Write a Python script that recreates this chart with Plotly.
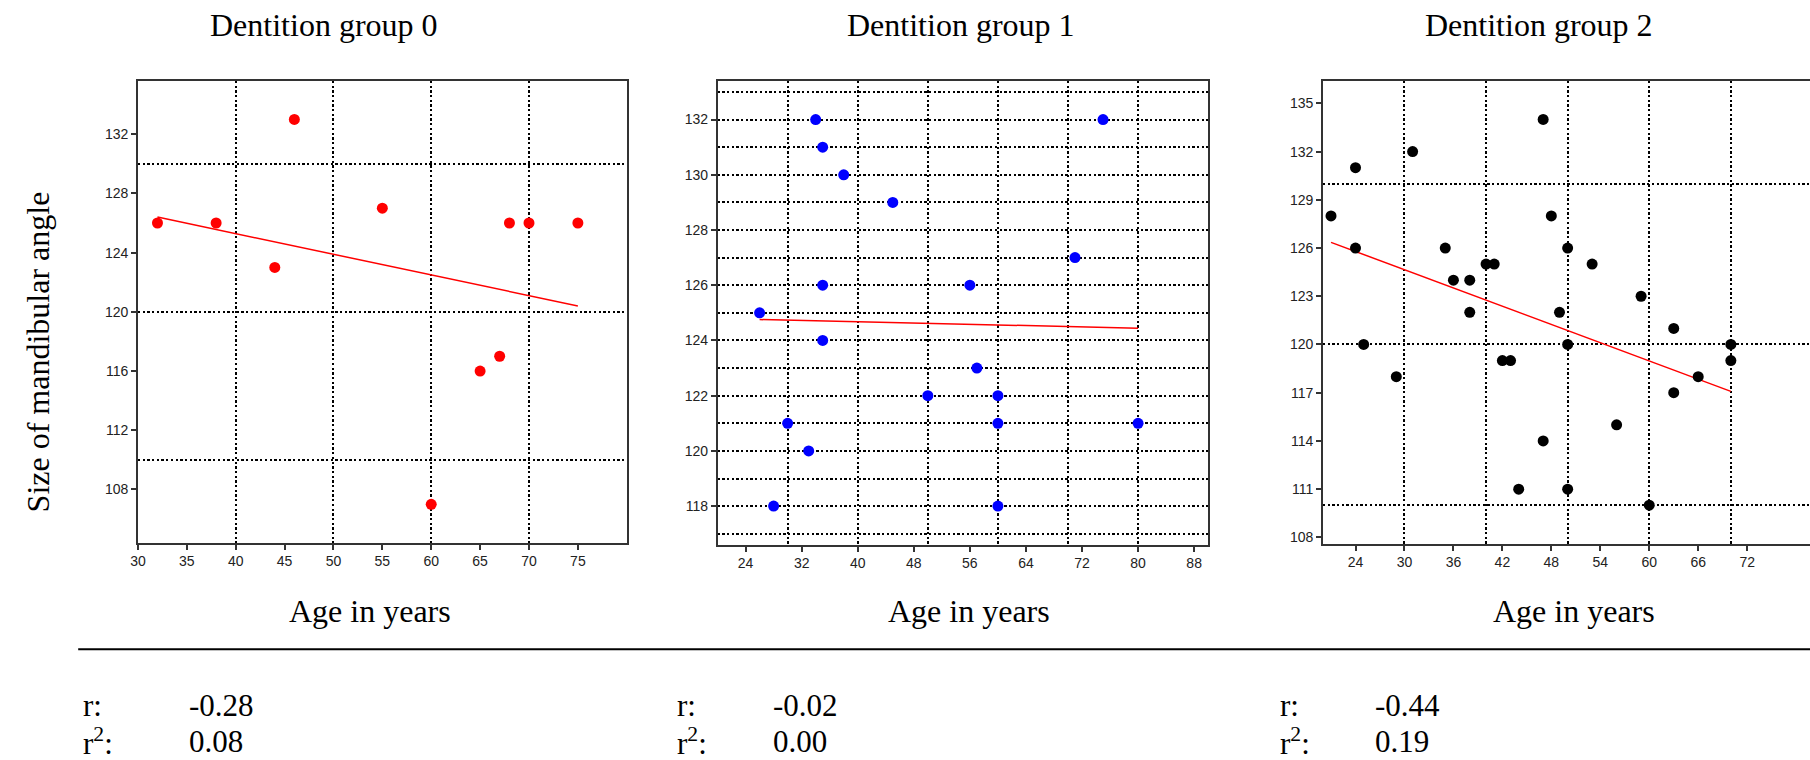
import numpy as np
import plotly.graph_objects as go

W, H = 1810, 760

# ---------------- data ----------------
panel_titles = ["Dentition group 0", "Dentition group 1", "Dentition group 2"]
x_title = "Age in years"
y_title = "Size of mandibular angle"

age_g0 = [32, 38, 44, 46, 55, 60, 65, 67, 68, 70, 75]
angle_g0 = [126, 126, 123, 133, 127, 107, 116, 117, 126, 126, 126]

age_g1 = [34, 35, 38, 45, 75, 71, 35, 56, 26, 35, 57, 50, 60, 30, 60, 80, 33, 28, 60]
angle_g1 = [132, 131, 130, 129, 132, 127, 126, 126, 125, 124, 123, 122, 122, 121, 121, 121, 120, 118, 118]

age_g2 = [21, 24, 31, 24, 25, 29, 35, 36, 38, 38, 40, 41, 42, 43, 47, 48, 50, 49, 50, 53,
          59, 63, 70, 70, 66, 63, 56, 47, 44, 50, 60]
angle_g2 = [128, 131, 132, 126, 120, 118, 126, 124, 124, 122, 125, 125, 119, 119, 134, 128, 126, 122, 120, 125,
            123, 121, 120, 119, 118, 117, 115, 114, 111, 111, 110]

r_labels = ["-0.28", "-0.02", "-0.44"]
r2_labels = ["0.08", "0.00", "0.19"]

xticks_g0 = [30, 35, 40, 45, 50, 55, 60, 65, 70, 75]
yticks_g0 = [108, 112, 116, 120, 124, 128, 132]
xgrid_g0 = [40, 50, 60, 70, 80]
ygrid_g0 = [110, 120, 130]

xticks_g1 = [24, 32, 40, 48, 56, 64, 72, 80, 88]
yticks_g1 = [118, 120, 122, 124, 126, 128, 130, 132]
xgrid_g1 = [30, 40, 50, 60, 70, 80, 90]
ygrid_g1 = list(range(117, 134))

xticks_g2 = [24, 30, 36, 42, 48, 54, 60, 66, 72]
yticks_g2 = [108, 111, 114, 117, 120, 123, 126, 129, 132, 135]
xgrid_g2 = [30, 40, 50, 60, 70, 80]
ygrid_g2 = [110, 120, 130]

xranges = [[30, 80], [20, 90], [20, 79.7]]

ages = [age_g0, age_g1, age_g2]
angles = [angle_g0, angle_g1, angle_g2]
xticks = [xticks_g0, xticks_g1, xticks_g2]
yticks = [yticks_g0, yticks_g1, yticks_g2]
xgrids = [xgrid_g0, xgrid_g1, xgrid_g2]
ygrids = [ygrid_g0, ygrid_g1, ygrid_g2]

# ---------------- style / layout ----------------
marker_colors = ["#ff0000", "#0000ff", "#000000"]
line_color = "#ff0000"
AX = "#333333"
SERIF = "Liberation Serif, Times New Roman, serif"
SANS = "Liberation Sans, Arial, sans-serif"

# plot-area pixel boxes (left, right, top, bottom)
boxes = [(130.5, 621.5, 81, 543.5), (712.7, 1205.5, 81, 545.5), (1320.7, 1810, 81, 544.5)]
title_cx = [317.0, 957.0, 1537.6]
xlabel_cx = [364.0, 965.6, 1572.7]
stat_r_x = [73.0, 669.5, 1275.5]
stat_v_x = [179.5, 766.5, 1371.3]

fig = go.Figure()
layout = dict(
    width=W, height=H,
    margin=dict(l=0, r=0, t=0, b=0),
    paper_bgcolor="white", plot_bgcolor="white",
    showlegend=False,
)

annotations = []
shapes = []

def px(xp):
    return xp / W

def py(yp):
    return 1 - yp / H

GRID = dict(showgrid=True, gridcolor="black", gridwidth=2.2, griddash="2.3px,2.4px")

for i in range(3):
    n = i + 1
    g = n + 3
    l, r, t, b = boxes[i]
    xdom = [px(l), min(px(r), 1.0)]
    ydom = [py(b), py(t)]
    ys = np.array(angles[i], dtype=float)
    xs = np.array(ages[i], dtype=float)
    span = ys.max() - ys.min()
    yr = [ys.min() - 0.1 * span, ys.max() + 0.1 * span]
    xr = xranges[i]

    xid = "x" if n == 1 else f"x{n}"
    yid = "y" if n == 1 else f"y{n}"
    xname = "xaxis" if n == 1 else f"xaxis{n}"
    yname = "yaxis" if n == 1 else f"yaxis{n}"

    tickfont = dict(family=SANS, size=14, color="#222222")
    layout[xname] = dict(
        domain=xdom, range=xr, anchor=yid,
        tickmode="array", tickvals=xticks[i],
        ticks="outside", ticklen=5, tickwidth=1.5, tickcolor=AX,
        showline=True, linecolor=AX, linewidth=1.5, mirror=True,
        showgrid=False, zeroline=False, tickfont=tickfont,
    )
    layout[yname] = dict(
        domain=ydom, range=yr, anchor=xid,
        tickmode="array", tickvals=yticks[i],
        ticks="outside", ticklen=5, tickwidth=1.5, tickcolor=AX,
        showline=True, linecolor=AX, linewidth=1.5, mirror=(i < 2),
        showgrid=False, zeroline=False, tickfont=tickfont,
    )
    # grid axes overlaying
    layout[f"xaxis{g}"] = dict(
        domain=xdom, range=xr, anchor=f"y{g}", overlaying=xid,
        tickmode="array", tickvals=xgrids[i], showticklabels=False, ticks="",
        showline=False, zeroline=False, **GRID,
    )
    layout[f"yaxis{g}"] = dict(
        domain=ydom, range=yr, anchor=f"x{g}", overlaying=yid,
        tickmode="array", tickvals=ygrids[i], showticklabels=False, ticks="",
        showline=False, zeroline=False, **GRID,
    )

    # regression line (main axes)
    slope, intercept = np.polyfit(xs, ys, 1)
    lx = np.array([xs.min(), xs.max()])
    fig.add_trace(go.Scatter(
        x=lx, y=slope * lx + intercept, mode="lines",
        line=dict(color=line_color, width=1.5),
        xaxis=xid, yaxis=yid, hoverinfo="skip",
    ))
    # points (overlay axes, drawn above the line)
    fig.add_trace(go.Scatter(
        x=xs, y=ys, mode="markers",
        marker=dict(color=marker_colors[i], size=11, line=dict(width=0)),
        xaxis=f"x{g}", yaxis=f"y{g}",
    ))

    annotations.append(dict(
        text=panel_titles[i], x=px(title_cx[i]), y=py(25), xref="paper", yref="paper",
        xanchor="center", yanchor="middle", showarrow=False,
        font=dict(family=SERIF, size=32, color="black"),
    ))
    annotations.append(dict(
        text=x_title, x=px(xlabel_cx[i]), y=py(612), xref="paper", yref="paper",
        xanchor="center", yanchor="middle", showarrow=False,
        font=dict(family=SERIF, size=32, color="black"),
    ))
    for label, val, yy in (("r:", r_labels[i], 706), ("r<sup>2</sup>:", r2_labels[i], 742)):
        annotations.append(dict(
            text=label, x=px(stat_r_x[i]), y=py(yy), xref="paper", yref="paper",
            xanchor="left", yanchor="middle", showarrow=False,
            font=dict(family=SERIF, size=31, color="black"),
        ))
        annotations.append(dict(
            text=val, x=px(stat_v_x[i]), y=py(yy), xref="paper", yref="paper",
            xanchor="left", yanchor="middle", showarrow=False,
            font=dict(family=SERIF, size=31, color="black"),
        ))

annotations.append(dict(
    text=y_title, x=px(30), y=py(352), xref="paper", yref="paper",
    xanchor="center", yanchor="middle", showarrow=False, textangle=-90,
    font=dict(family=SERIF, size=32, color="black"),
))

shapes.append(dict(
    type="line", xref="paper", yref="paper",
    x0=px(70.5), x1=1.0, y0=py(650), y1=py(650),
    line=dict(color="black", width=2),
))

layout["annotations"] = annotations
layout["shapes"] = shapes
fig.update_layout(**layout)

fig.write_html(
    "out.html",
    config={"displayModeBar": False},
    post_script="document.body.style.margin='0px';document.body.style.overflow='hidden';",
)
